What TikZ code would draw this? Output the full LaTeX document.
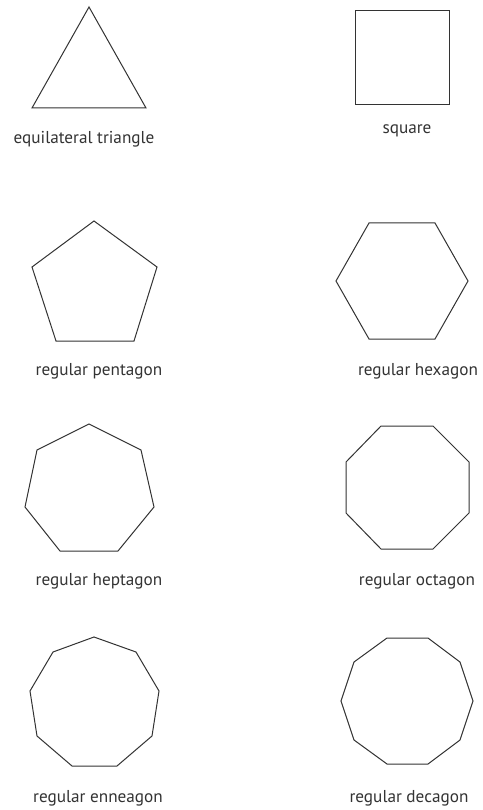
\documentclass[tikz,border=0pt]{standalone}
\usepackage{fontspec}
\setmainfont{PT Sans}
\definecolor{ink}{HTML}{333333}
\begin{document}
\begin{tikzpicture}[x=1pt,y=-1pt,
  poly/.style={draw=ink,line width=1pt,line join=miter},
  lbl/.style={text=ink,font=\fontsize{17.2}{20}\selectfont,inner sep=0pt,anchor=center}]
\useasboundingbox[fill=white] (0,0) rectangle (482,810);
% triangle
\draw[poly] (89,7) -- (32,108) -- (146,108) -- cycle;
\node[lbl] (t1) at (84,139) {equilateral triangle};
% square
\draw[poly] (355,10.5) rectangle (449,105);
\node[lbl] (t2) at (407,131) {square};
% pentagon
\draw[poly] (94,221) -- (157,267) -- (134,341) -- (56,341) -- (32,267) -- cycle;
\node[lbl] (t3) at (99,371) {regular pentagon};
% hexagon
\draw[poly] (369,223) -- (435,223) -- (468,281) -- (435,339) -- (369,339) -- (336,281) -- cycle;
\node[lbl] (t4) at (418,371) {regular hexagon};
% heptagon
\draw[poly] (89,424) -- (141,450) -- (154,507) -- (118,551) -- (60,551) -- (25,507) -- (37,450) -- cycle;
\node[lbl] (t5) at (99,581) {regular heptagon};
% octagon
\draw[poly] (381,426) -- (433,426) -- (469,462) -- (469,513) -- (433,549) -- (381,549) -- (346,513) -- (346,462) -- cycle;
\node[lbl] (t6) at (417,581) {regular octagon};
% enneagon
\draw[poly] (94,637) -- (136,652) -- (159,691) -- (152,736) -- (117,766) -- (72,766) -- (37,736) -- (30,691) -- (53,652) -- cycle;
\node[lbl] (t7) at (98,798) {regular enneagon};
% decagon
\draw[poly] (387,638) -- (428,638) -- (460,662) -- (473,701) -- (460,740) -- (428,764) -- (387,764) -- (354,740) -- (341,701) -- (354,662) -- cycle;
\node[lbl] (t8) at (409,798) {regular decagon};
\end{tikzpicture}
\end{document}
